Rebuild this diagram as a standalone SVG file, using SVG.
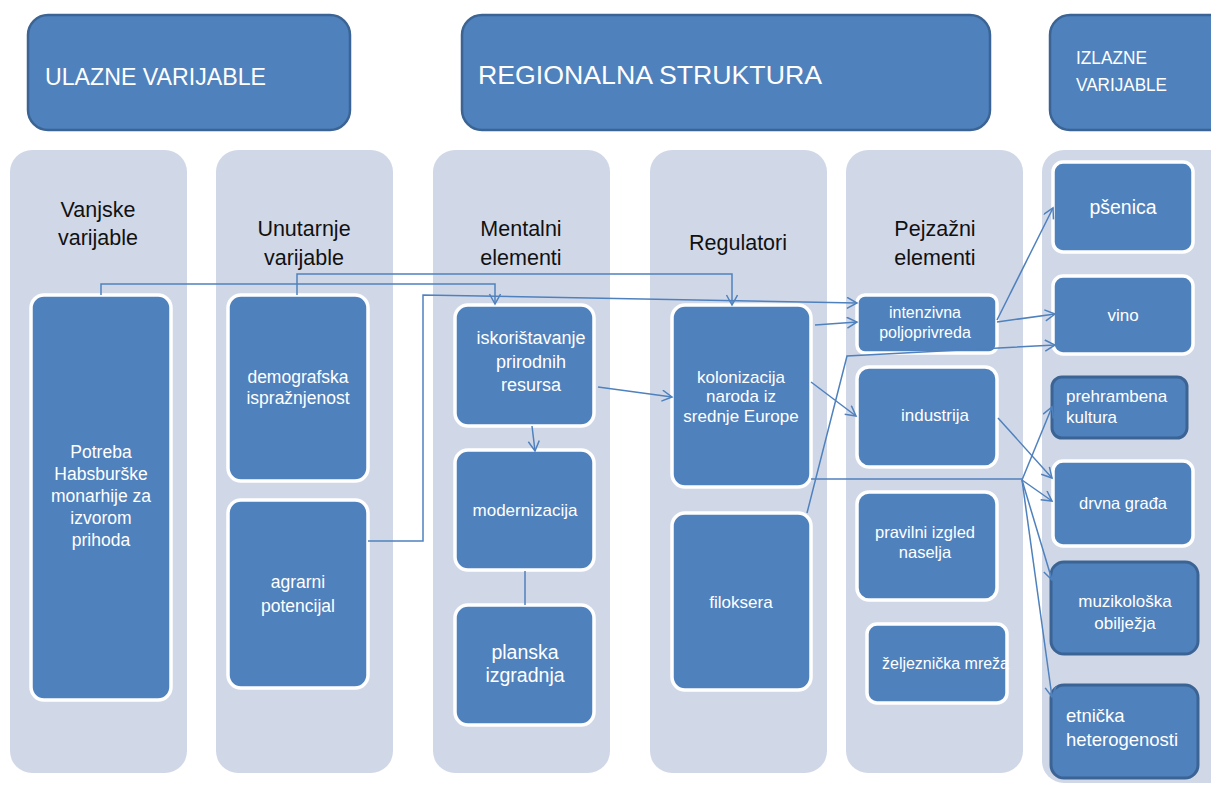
<svg xmlns="http://www.w3.org/2000/svg" width="1211" height="787" viewBox="0 0 1211 787">
<defs>
<marker id="arr" markerUnits="userSpaceOnUse" markerWidth="14" markerHeight="14" refX="11" refY="6" orient="auto">
<path d="M1,0.5 L11,6 L1,11.5" fill="none" stroke="#4F81BD" stroke-width="1.5"/>
</marker>
</defs>
<style>
.hdr{fill:#4F81BD;stroke:#3B6494;stroke-width:2.5}
.col{fill:#D0D8E8}
.box{fill:#4F81BD;stroke:#ffffff;stroke-width:3.5}
.dbox{fill:#4F81BD;stroke:#3B6494;stroke-width:3}
.ht{font-family:"Liberation Sans",Arial,sans-serif;fill:#ffffff}
.ct{font-family:"Liberation Sans",Arial,sans-serif;fill:#111111;font-size:21.5px;text-anchor:middle}
.t{font-family:"Liberation Sans",Arial,sans-serif;fill:#ffffff;text-anchor:middle}
.tl{font-family:"Liberation Sans",Arial,sans-serif;fill:#ffffff}
.cn{fill:none;stroke:#4F81BD;stroke-width:1.5}
</style>
<rect width="1211" height="787" fill="#ffffff"/>

<g id="header-ulazne"><rect class="hdr" x="28" y="15" width="322" height="115" rx="20"/><text class="ht" x="45" y="85" style="font-size:24px" textLength="221" lengthAdjust="spacingAndGlyphs">ULAZNE VARIJABLE</text></g>
<g id="header-regionalna"><rect class="hdr" x="462" y="15" width="528" height="115" rx="20"/><text class="ht" x="478" y="84" style="font-size:26px" textLength="344" lengthAdjust="spacingAndGlyphs">REGIONALNA STRUKTURA</text></g>
<g id="header-izlazne"><rect class="hdr" x="1050" y="15" width="185" height="115" rx="20"/><text class="ht" x="1076" y="64" style="font-size:18px" textLength="71" lengthAdjust="spacingAndGlyphs">IZLAZNE</text><text class="ht" x="1076" y="91" style="font-size:18px" textLength="91" lengthAdjust="spacingAndGlyphs">VARIJABLE</text></g>

<g id="col-vanjske"><rect class="col" x="10" y="150" width="177" height="623" rx="22"/><text class="ct" x="98" y="217">Vanjske</text><text class="ct" x="98" y="245">varijable</text></g>
<g id="col-unutarnje"><rect class="col" x="216" y="150" width="177" height="623" rx="22"/><text class="ct" x="304" y="236">Unutarnje</text><text class="ct" x="304" y="265">varijable</text></g>
<g id="col-mentalni"><rect class="col" x="433" y="150" width="177" height="623" rx="22"/><text class="ct" x="521" y="236">Mentalni</text><text class="ct" x="521" y="265">elementi</text></g>
<g id="col-regulatori"><rect class="col" x="650" y="150" width="177" height="623" rx="22"/><text class="ct" x="738" y="250">Regulatori</text></g>
<g id="col-pejzazni"><rect class="col" x="846" y="150" width="177" height="623" rx="22"/><text class="ct" x="935" y="236">Pejzažni</text><text class="ct" x="935" y="265">elementi</text></g>
<g id="col-izlazne"><rect class="col" x="1042" y="150" width="200" height="633" rx="22"/></g>

<g id="n-potreba"><rect class="box" x="31" y="295" width="140" height="405" rx="13"/><text class="t" style="font-size:17.5px" x="101" y="458">Potreba</text><text class="t" style="font-size:17.5px" x="101" y="480">Habsburške</text><text class="t" style="font-size:17.5px" x="101" y="502">monarhije za</text><text class="t" style="font-size:17.5px" x="101" y="524">izvorom</text><text class="t" style="font-size:17.5px" x="101" y="546">prihoda</text></g>
<g id="n-demografska"><rect class="box" x="228" y="295" width="140" height="186" rx="13"/><text class="t" style="font-size:17.5px" x="298" y="383">demografska</text><text class="t" style="font-size:17.5px" x="298" y="404">ispražnjenost</text></g>
<g id="n-agrarni"><rect class="box" x="228" y="500" width="140" height="188" rx="13"/><text class="t" style="font-size:17.5px" x="298" y="588">agrarni</text><text class="t" style="font-size:17.5px" x="298" y="612">potencijal</text></g>
<g id="n-iskoristavanje"><rect class="box" x="455" y="305" width="139" height="121" rx="13"/><text class="t" style="font-size:18px" x="531" y="344">iskorištavanje</text><text class="t" style="font-size:18px" x="531" y="368">prirodnih</text><text class="t" style="font-size:18px" x="531" y="391">resursa</text></g>
<g id="n-modernizacija"><rect class="box" x="455" y="450" width="139" height="120" rx="13"/><text class="t" style="font-size:17px" x="525" y="516">modernizacija</text></g>
<g id="n-planska"><rect class="box" x="455" y="605" width="139" height="120" rx="13"/><text class="t" style="font-size:19.5px" x="525" y="659">planska</text><text class="t" style="font-size:19.5px" x="525" y="682">izgradnja</text></g>
<g id="n-kolonizacija"><rect class="box" x="672" y="305" width="139" height="182" rx="13"/><text class="t" style="font-size:17px" x="741" y="383">kolonizacija</text><text class="t" style="font-size:17px" x="741" y="402">naroda iz</text><text class="t" style="font-size:17px" x="741" y="422">srednje Europe</text></g>
<g id="n-filoksera"><rect class="box" x="672" y="513" width="139" height="177" rx="13"/><text class="t" style="font-size:17px" x="741" y="608">filoksera</text></g>
<g id="n-intenzivna"><rect class="box" x="857" y="295" width="140" height="58" rx="8"/><text class="t" style="font-size:16px" x="925" y="318">intenzivna</text><text class="t" style="font-size:16px" x="925" y="338">poljoprivreda</text></g>
<g id="n-industrija"><rect class="box" x="857" y="367" width="140" height="100" rx="12"/><text class="t" style="font-size:17px" x="935" y="421">industrija</text></g>
<g id="n-pravilni"><rect class="box" x="857" y="492" width="140" height="108" rx="12"/><text class="t" style="font-size:16.5px" x="925" y="538">pravilni izgled</text><text class="t" style="font-size:16.5px" x="925" y="558">naselja</text></g>
<g id="n-zeljeznicka"><rect class="box" x="867" y="624" width="140" height="79" rx="10"/><text class="tl" x="882" y="669" style="font-size:16px" textLength="127" lengthAdjust="spacingAndGlyphs">željeznička mreža</text></g>
<g id="n-psenica"><rect class="box" x="1053" y="162" width="140" height="90" rx="10"/><text class="t" style="font-size:19.5px" x="1123" y="214">pšenica</text></g>
<g id="n-vino"><rect class="box" x="1053" y="276" width="140" height="78" rx="10"/><text class="t" style="font-size:17px" x="1123" y="321">vino</text></g>
<g id="n-prehrambena"><rect class="dbox" x="1052" y="377" width="135" height="61" rx="10"/><text class="tl" style="font-size:17px" x="1066" y="402">prehrambena</text><text class="tl" style="font-size:17px" x="1066" y="423">kultura</text></g>
<g id="n-drvna"><rect class="box" x="1053" y="461" width="140" height="85" rx="10"/><text class="t" style="font-size:16.5px" x="1123" y="509">drvna građa</text></g>
<g id="n-muzikoloska"><rect class="dbox" x="1051" y="562" width="147" height="92" rx="13"/><text class="t" style="font-size:17px" x="1125" y="607">muzikološka</text><text class="t" style="font-size:17px" x="1125" y="629">obilježja</text></g>
<g id="n-etnicka"><rect class="dbox" x="1051" y="685" width="147" height="93" rx="13"/><text class="tl" style="font-size:18.5px" x="1066" y="722">etnička</text><text class="tl" style="font-size:18.5px" x="1066" y="746">heterogenosti</text></g>

<g id="connectors">
<path class="cn" d="M101,295 V284 H495 V304" marker-end="url(#arr)"/>
<path class="cn" d="M297,295 V274 H732 V305" marker-end="url(#arr)"/>
<path class="cn" d="M368,541 H423 V295 L857,303" marker-end="url(#arr)"/>
<path class="cn" d="M532,426 L535,451" marker-end="url(#arr)"/>
<path class="cn" d="M525,571 L525,605"/>
<path class="cn" d="M598,387 L672,397" marker-end="url(#arr)"/>
<path class="cn" d="M815,325 L857,322" marker-end="url(#arr)"/>
<path class="cn" d="M811,382 L856,416" marker-end="url(#arr)"/>
<path class="cn" d="M811,479 H1022"/>
<path class="cn" d="M1022,480 L1052,407" marker-end="url(#arr)"/>
<path class="cn" d="M1022,480 L1052,501" marker-end="url(#arr)"/>
<path class="cn" d="M1022,480 L1052,580" marker-end="url(#arr)"/>
<path class="cn" d="M1022,480 L1052,697" marker-end="url(#arr)"/>
<path class="cn" d="M998,418 L1052,478" marker-end="url(#arr)"/>
<path class="cn" d="M807,513 L847,356 L1055,345" marker-end="url(#arr)"/>
<path class="cn" d="M997,320 L1053,208" marker-end="url(#arr)"/>
<path class="cn" d="M997,322 L1055,314" marker-end="url(#arr)"/>
</g>
</svg>
